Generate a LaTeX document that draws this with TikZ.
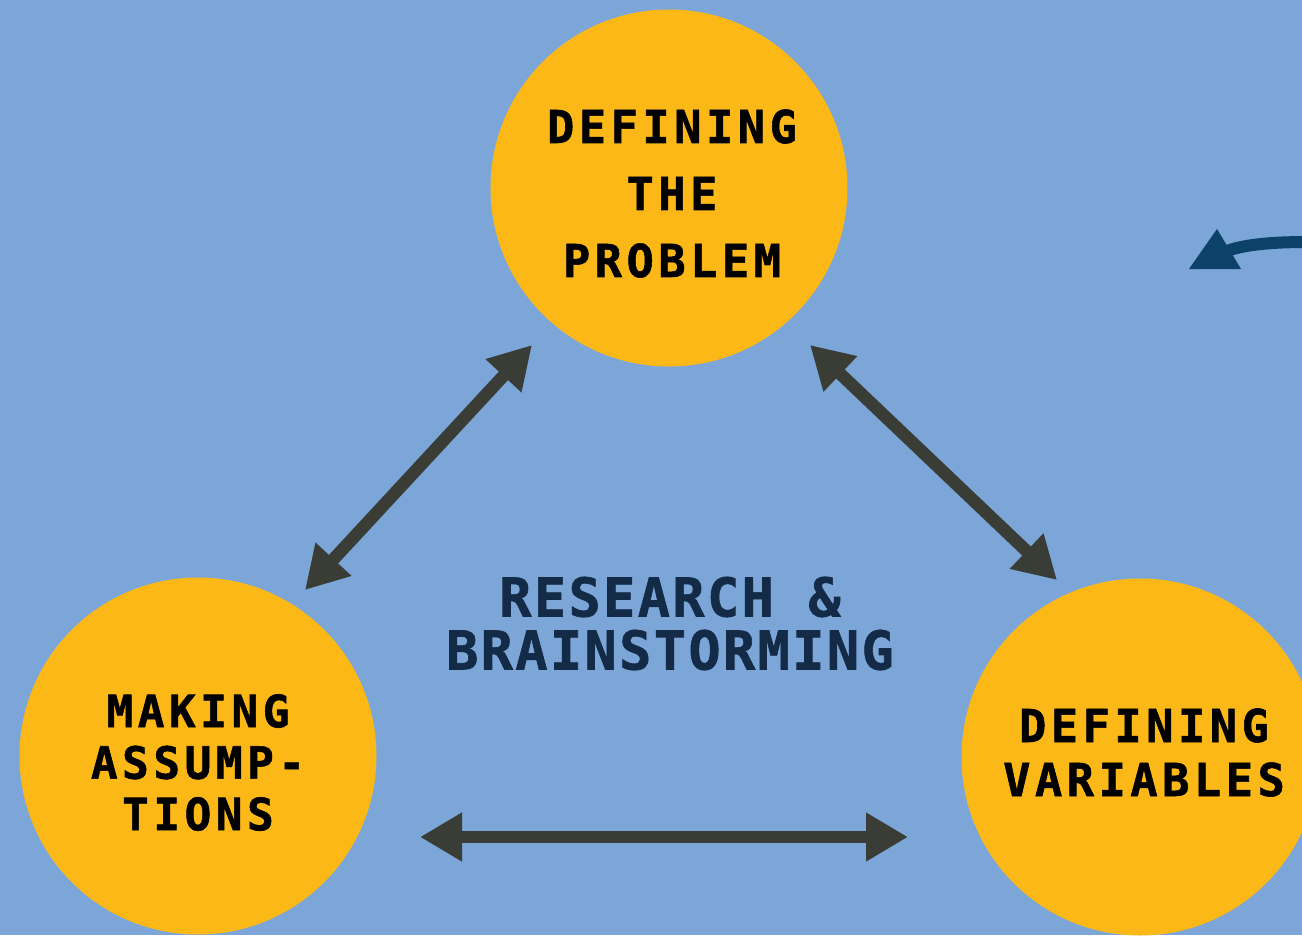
\documentclass[tikz,border=0pt]{standalone}
\usepackage{fontspec}
\usetikzlibrary{arrows.meta}
\newfontfamily\pixcircle{DejaVu Sans Mono}[LetterSpace=10, FakeBold=1.2]
\newfontfamily\pixcentre{DejaVu Sans Mono}[LetterSpace=4.5, FakeBold=1.2]
\definecolor{sky}{HTML}{7CA6D8}
\definecolor{sun}{HTML}{FBB817}
\definecolor{slate}{HTML}{393D36}
\definecolor{navy}{HTML}{0C4169}
\definecolor{inkblue}{HTML}{142B47}
\begin{document}
\begin{tikzpicture}[x=1pt,y=-1pt,
  stage/.style={circle, fill=sun, minimum size=357pt, inner sep=0pt},
  stagetext/.style={align=center, inner sep=0pt, text=black},
  link/.style={draw=slate, line width=12.5pt,
    {Triangle[length=42pt,width=46pt]}-{Triangle[length=42pt,width=46pt]}}]
\useasboundingbox (0,0) rectangle (1302,935);
\clip (0,0) rectangle (1302,935);
\fill[sky] (0,0) rectangle (1302,935);

% the three stages
\node[stage] (problem) at (669,188) {};
\node[stage] (assume) at (198,756) {};
\node[stage] (vars) at (1140,757) {};

\node[stagetext, font=\pixcircle\bfseries\fontsize{45.3}{67}\selectfont]
  (problemtext) at (672,193.5) {DEFINING\\THE\\PROBLEM};
\node[stagetext, font=\pixcircle\bfseries\fontsize{44.5}{51.5}\selectfont]
  (assumetext) at (198,762.5) {MAKING\\ASSUMP-\\TIONS};
\node[stagetext, font=\pixcircle\bfseries\fontsize{45.3}{54}\selectfont]
  (varstext) at (1144,752.5) {DEFINING\\VARIABLES};

% centre label
\node[align=center, inner sep=0pt, text=inkblue,
      font=\pixcentre\bfseries\fontsize{53.5}{53}\selectfont]
  (research) at (670,623.5) {RESEARCH \&\\BRAINSTORMING};

% two-way links between the stages
\coordinate (pl) at (532,345);
\coordinate (al) at (305,590);
\coordinate (pr) at (810,345);
\coordinate (vr) at (1057,580);
\coordinate (ab) at (420,837);
\coordinate (vb) at (908,837);
\draw[link] (pl) -- (al);
\draw[link] (pr) -- (vr);
\draw[link] (ab) -- (vb);

% incoming arrow at the right edge
\coordinate (cuestart) at (1308,242);
\coordinate (cueend) at (1224,252);
\draw[navy, line width=12pt] (cuestart) .. controls (1268,242) and (1242,245) .. (cueend);
\fill[navy] (1189,269) -- (1217,229) -- (1241,269) -- cycle;
\end{tikzpicture}
\end{document}
